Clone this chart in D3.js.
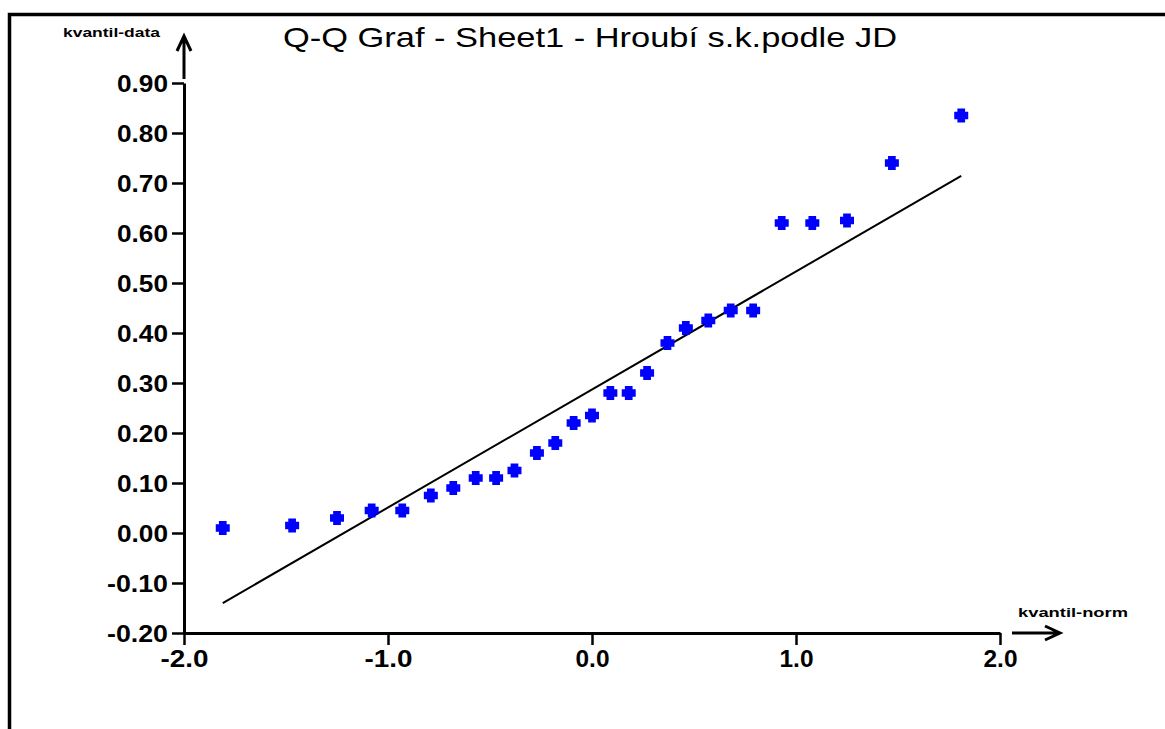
<!DOCTYPE html>
<html>
<head>
<meta charset="utf-8">
<script src="https://cdn.jsdelivr.net/npm/d3@7"></script>
<style>
  html, body { margin: 0; padding: 0; background: #fff; }
  svg { display: block; }
</style>
</head>
<body>
<svg id="chart" width="1165" height="729"></svg>
<script>
// Theoretical normal quantiles (x) and sorted sample values (y)
const normalQuantiles = [-1.81, -1.47, -1.25, -1.08, -0.93, -0.79, -0.68, -0.57, -0.47,
  -0.38, -0.27, -0.18, -0.09, 0.00, 0.09, 0.18, 0.27, 0.37, 0.46, 0.57, 0.68, 0.79,
  0.93, 1.08, 1.25, 1.47, 1.81];
const sampleValues = [0.010, 0.015, 0.030, 0.045, 0.045, 0.075, 0.090, 0.110, 0.110,
  0.125, 0.160, 0.180, 0.220, 0.235, 0.280, 0.280, 0.320, 0.380, 0.410, 0.425, 0.445,
  0.445, 0.620, 0.620, 0.625, 0.740, 0.835];

// Reference line y = intercept + slope * x, drawn over the quantile range
const lineIntercept = 0.287;
const lineSlope = 0.236;

const xTicks = [-2, -1, 0, 1, 2];
const xTickLabels = ["-2.0", "-1.0", "0.0", "1.0", "2.0"];
const yTicks = [-0.2, -0.1, 0, 0.1, 0.2, 0.3, 0.4, 0.5, 0.6, 0.7, 0.8, 0.9];
const yTickLabels = ["-0.20", "-0.10", "0.00", "0.10", "0.20", "0.30", "0.40",
  "0.50", "0.60", "0.70", "0.80", "0.90"];

const titleText = "Q-Q Graf - Sheet1 - Hroubí s.k.podle JD";
const yAxisTitle = "kvantil-data";
const xAxisTitle = "kvantil-norm";

const svg = d3.select("#chart");
const font = "'Liberation Sans', Arial, sans-serif";

const x = d3.scaleLinear().domain([-2, 2]).range([184, 1000]);
const y = d3.scaleLinear().domain([-0.2, 0.9]).range([633, 83]);

// Outer frame (top and left edges)
svg.append("path")
  .attr("d", "M9.5,729 V14.5 H1165")
  .attr("fill", "none")
  .attr("stroke", "#000")
  .attr("stroke-width", 3.5);

// Title
svg.append("text")
  .attr("x", 283).attr("y", 47)
  .attr("font-family", font)
  .attr("font-size", 28)
  .attr("textLength", 614)
  .attr("lengthAdjust", "spacingAndGlyphs")
  .text(titleText);

// Y axis
const yAxis = svg.append("g")
  .attr("transform", `translate(${x(-2)},0)`)
  .call(d3.axisLeft(y)
    .tickValues(yTicks)
    .tickSize(12)
    .tickSizeOuter(0)
    .tickPadding(4)
    .tickFormat((d, i) => yTickLabels[i]));

// X axis
const xAxis = svg.append("g")
  .attr("transform", `translate(0,${y(-0.2)})`)
  .call(d3.axisBottom(x)
    .tickValues(xTicks)
    .tickSize(12)
    .tickSizeOuter(0)
    .tickPadding(5)
    .tickFormat((d, i) => xTickLabels[i]));

[yAxis, xAxis].forEach(g => {
  g.select(".domain").attr("stroke", "#000").attr("stroke-width", 3);
  g.selectAll(".tick line").attr("stroke", "#000").attr("stroke-width", 2.5);
  g.selectAll(".tick text")
    .attr("fill", "#000")
    .attr("font-family", font)
    .attr("font-weight", "bold")
    .attr("font-size", 23);
});
yAxis.selectAll(".tick text")
  .attr("dy", "0.38em")
  .attr("textLength", (d, i) => yTickLabels[i].startsWith("-") ? 61 : 51)
  .attr("lengthAdjust", "spacingAndGlyphs");
xAxis.selectAll(".tick text")
  .attr("dy", "0.72em")
  .attr("textLength", (d, i) => xTickLabels[i].startsWith("-") ? 48 : 34)
  .attr("lengthAdjust", "spacingAndGlyphs");

// Axis arrows
const arrows = svg.append("g")
  .attr("fill", "none")
  .attr("stroke", "#000")
  .attr("stroke-width", 3);
arrows.append("path")
  .attr("d", `M${x(-2)},${y(0.9) - 4} V36 M${x(-2) - 7},51 L${x(-2)},36 L${x(-2) + 7},51`);
arrows.append("path")
  .attr("d", `M${x(2) + 12},${y(-0.2)} H1060 M1045,${y(-0.2) - 7} L1060,${y(-0.2)} L1045,${y(-0.2) + 7}`);

// Axis titles
svg.append("text")
  .attr("x", 63).attr("y", 37)
  .attr("font-family", font)
  .attr("font-weight", "bold")
  .attr("font-size", 12)
  .attr("textLength", 97)
  .attr("lengthAdjust", "spacingAndGlyphs")
  .text(yAxisTitle);
svg.append("text")
  .attr("x", 1018).attr("y", 617)
  .attr("font-family", font)
  .attr("font-weight", "bold")
  .attr("font-size", 12)
  .attr("textLength", 110)
  .attr("lengthAdjust", "spacingAndGlyphs")
  .text(xAxisTitle);

// Reference line
const xMin = d3.min(normalQuantiles), xMax = d3.max(normalQuantiles);
svg.append("line")
  .attr("x1", x(xMin)).attr("y1", y(lineIntercept + lineSlope * xMin))
  .attr("x2", x(xMax)).attr("y2", y(lineIntercept + lineSlope * xMax))
  .attr("stroke", "#000")
  .attr("stroke-width", 2);

// Chunky plus markers
const plus = {
  draw(ctx, size) {
    const h = Math.sqrt(size) / 2, a = h * 0.55;
    ctx.moveTo(-a, -h); ctx.lineTo(a, -h); ctx.lineTo(a, -a); ctx.lineTo(h, -a);
    ctx.lineTo(h, a); ctx.lineTo(a, a); ctx.lineTo(a, h); ctx.lineTo(-a, h);
    ctx.lineTo(-a, a); ctx.lineTo(-h, a); ctx.lineTo(-h, -a); ctx.lineTo(-a, -a);
    ctx.closePath();
  }
};
svg.append("g")
  .selectAll("path")
  .data(normalQuantiles.map((q, i) => [q, sampleValues[i]]))
  .join("path")
  .attr("transform", d => `translate(${x(d[0])},${y(d[1])})`)
  .attr("d", d3.symbol(plus, 196))
  .attr("fill", "#0000ff");
</script>
</body>
</html>
